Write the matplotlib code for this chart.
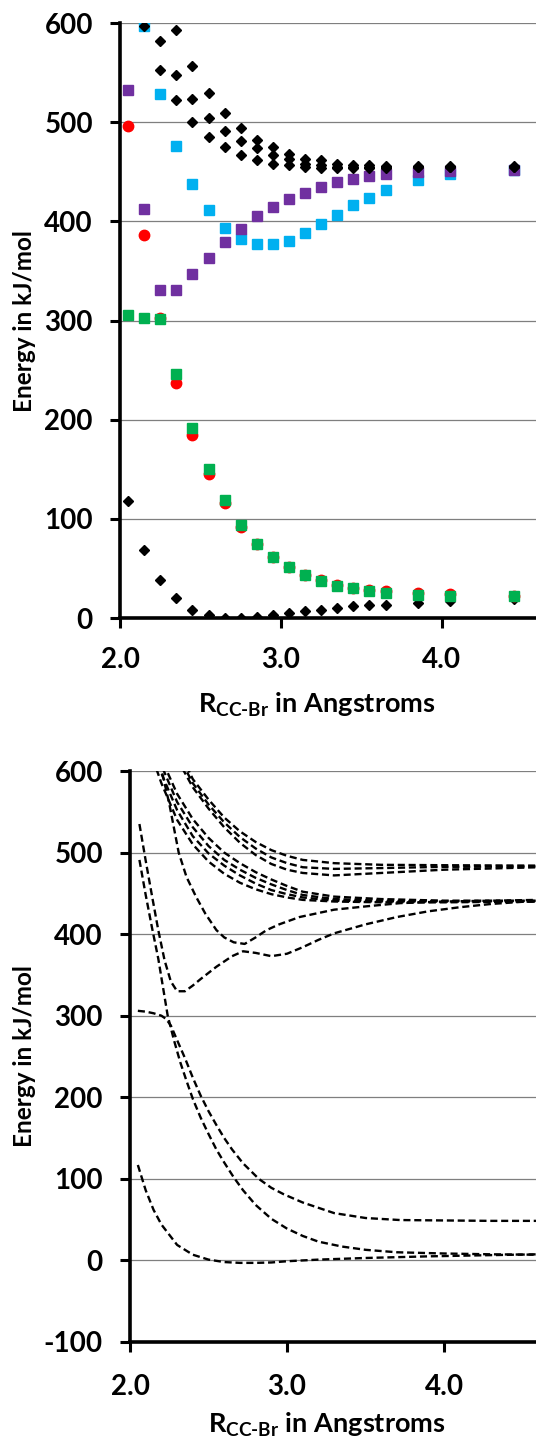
import numpy as np
import matplotlib.pyplot as plt

plt.rcParams['font.family'] = ['Lato', 'DejaVu Sans']
plt.rcParams['font.weight'] = 'bold'
plt.rcParams['axes.unicode_minus'] = False
plt.rcParams['mathtext.fontset'] = 'custom'
plt.rcParams['mathtext.rm'] = 'Lato:bold'
plt.rcParams['mathtext.bf'] = 'Lato:bold'

nan = np.nan

# ---- top panel: computed points ----
r_top = [2.05, 2.15, 2.25, 2.35, 2.45, 2.55, 2.65, 2.75, 2.85, 2.95,
         3.05, 3.15, 3.25, 3.35, 3.45, 3.55, 3.65, 3.85, 4.05, 4.45]
ground = [118, 69, 38, 20, 8, 3, 0.5, 0, 1, 2.6, 4.9, 6.6, 8.3, 10, 11.8, 12.8, 13.5, 15.5, 17, 19]
red = [496, 386, 303, 237, 185, 145, 116, 92, 75, 62, 51, 43, 38, 33, 30.5, 28.5, 27, 25, 24, 22.5]
green = [306, 303, 302, 246, 192, 150, 119, 94, 75, 62, 51, 43, 37, 32.5, 30, 27, 25, 23, 22.5, 22]
purple = [532, 412, 331, 331, 347, 363, 379, 392, 405, 414, 423, 429, 435, 440, 443, 446, 448, 450, 451, 452]
cyan = [nan, 597, 528, 476, 438, 411, 393, 382, 377, 377, 380, 388, 397, 406, 416, 424, 432, 441.5, 448, 452]
black_a = [nan, nan, nan, 593, 557, 529, 509, 494, 482, 475, 468, 463, 462, 458, 457, 456.5, 456, 456, 456, 456]
black_b = [nan, nan, 582, 548, 523, 504, 491, 481, 473.5, 467, 463, 458, 457, 455, 455, 455, 455, 455, 455, 455]
black_c = [nan, 597, 553, 522, 500, 485, 474.5, 467, 461.5, 458, 456.5, 455, 453.5, 453.3, 454, 454, 454, 454.5, 454.5, 455]

# ---- bottom panel: fitted curves ----
g0_r = [2.05, 2.10, 2.15, 2.20, 2.30, 2.40, 2.50, 2.60, 2.70, 2.80, 2.90, 3.00, 3.20, 3.50, 3.90, 4.30, 4.60]
g0_e = [117, 86, 62, 44, 19, 7, 1, -2, -3, -3, -2.5, -1, 1, 3, 5, 6.5, 7.5]

a_r = [2.06, 2.10, 2.14, 2.18, 2.21, 2.24, 2.28, 2.32, 2.36, 2.40, 2.45, 2.50, 2.55, 2.60, 2.66,
       2.72, 2.80, 2.90, 3.00, 3.10, 3.20, 3.35, 3.50, 3.70, 4.00, 4.30, 4.60]
a_e = [491, 448, 408, 370, 335, 300, 270, 243, 220, 198, 175, 155, 136, 120, 102,
       86, 68, 51, 39, 30, 23, 17, 13, 10, 8.5, 7.5, 7]

b_r = [2.05, 2.10, 2.15, 2.20, 2.23, 2.26, 2.30, 2.35, 2.40, 2.45, 2.50, 2.55, 2.60, 2.65,
       2.72, 2.82, 2.90, 2.98, 3.10, 3.30, 3.50, 3.72, 4.00, 4.30, 4.60]
b_e = [306, 305, 303, 300, 296, 288, 270, 248, 224, 202, 183, 166, 150, 136,
       119, 100, 89, 81, 71, 58, 52, 49.5, 49, 48.5, 48.5]

p_r = [2.06, 2.10, 2.14, 2.18, 2.22, 2.26, 2.30, 2.35, 2.40, 2.45, 2.55, 2.65, 2.72, 2.80,
       2.90, 3.00, 3.10, 3.20, 3.30, 3.50, 3.70, 3.90, 4.10, 4.30, 4.60]
p_e = [535, 490, 447, 405, 368, 342, 330, 330, 337, 345, 360, 373, 379, 377,
       373, 376, 384, 393, 401, 412, 421, 428, 433, 437, 441]

c_r = [2.19, 2.25, 2.31, 2.36, 2.42, 2.48, 2.55, 2.60, 2.66, 2.73, 2.80, 2.87, 2.95,
       3.08, 3.30, 3.50, 3.72, 4.00, 4.30, 4.60]
c_e = [610, 560, 500, 470, 446, 425, 405, 396, 390, 388, 396, 405, 412,
       421, 430, 434, 438, 440, 441, 442]

l_r = [2.10, 2.20, 2.30, 2.40, 2.50, 2.60, 2.70, 2.80, 2.90, 3.00, 3.10, 3.30, 3.60, 4.00, 4.60]
l1_e = [700, 615, 572, 541, 518, 500, 487, 476, 467, 459, 452, 446, 443, 441, 441]
l2_e = [680, 607, 562, 531, 508, 491, 479, 469, 461, 454, 448, 443, 441, 440.5, 440.5]
l3_e = [660, 597, 552, 520, 499, 484, 472, 462, 454, 449, 445, 441, 440, 440, 440]
l4_e = [640, 585, 540, 510, 489, 474, 463, 455, 449, 445, 442, 440, 439, 439, 440]

h_r = [2.30, 2.40, 2.50, 2.60, 2.70, 2.80, 2.90, 3.00, 3.10, 3.30, 3.60, 4.00, 4.60]
h1_e = [630, 590, 565, 543, 526, 513, 503, 496, 491, 487, 485, 484.5, 484]
h2_e = [622, 585, 559, 537, 519, 505, 494, 487, 482, 480, 481, 482.5, 483]
h3_e = [615, 580, 554, 531, 512, 497, 486, 479, 475, 472, 475, 479, 482]

W, H = 536, 1441
fig = plt.figure(figsize=(W / 100, H / 100), dpi=100)


def style_axes(ax, ymin, xpad):
    ax.set_xlim(2.0, 4.585)
    ax.set_ylim(ymin, 600)
    ax.set_yticks(np.arange(ymin, 601, 100))
    ax.set_xticks([2.0, 3.0, 4.0])
    ax.set_xticklabels(['2.0', '3.0', '4.0'])
    ax.grid(axis='y', color='#7f7f7f', linewidth=0.9)
    ax.set_axisbelow(True)
    for s in ['top', 'right']:
        ax.spines[s].set_visible(False)
    for s in ['left', 'bottom']:
        ax.spines[s].set_linewidth(2.6)
        ax.spines[s].set_color('black')
    ax.tick_params(axis='both', direction='out', length=7, width=2.2, labelsize=20)
    ax.tick_params(axis='y', pad=12.5)
    ax.tick_params(axis='x', pad=xpad)
    for lab in ax.get_xticklabels() + ax.get_yticklabels():
        lab.set_fontweight('bold')


xlab = r'R$_{\mathrm{CC‐Br}}$ in Angstroms'

# top panel
ax1 = fig.add_axes([120 / W, 1 - 618 / H, 416 / W, 595 / H])
style_axes(ax1, 0, 14)
ax1.plot(r_top, ground, 'D', color='black', ms=5.2, zorder=3)
ax1.plot(r_top, red, 'o', color='#ff0000', ms=7.5, zorder=3)
ax1.plot(r_top, green, 's', color='#00b050', ms=7.5, zorder=3)
ax1.plot(r_top, cyan, 's', color='#00b0f0', ms=7.5, zorder=3)
ax1.plot(r_top, purple, 's', color='#7030a0', ms=7.5, zorder=3)
for ys in (black_a, black_b, black_c):
    ax1.plot(r_top, ys, 'D', color='black', ms=5.2, zorder=4)
fig.text(25 / W, 1 - 321 / H, 'Energy in kJ/mol', rotation=90, ha='center', va='center',
         fontsize=17.5, fontweight='bold')
fig.text(317 / W, 1 - 705 / H, xlab, ha='center', va='center', fontsize=19.5, fontweight='bold')

# bottom panel
ax2 = fig.add_axes([130 / W, 1 - 1342 / H, 406 / W, 571 / H])
style_axes(ax2, -100, 16)
dash = dict(color='black', linestyle=(0, (3.0, 1.6)), linewidth=1.7)
ax2.plot(g0_r, g0_e, **dash)
ax2.plot(a_r, a_e, **dash)
ax2.plot(b_r, b_e, **dash)
ax2.plot(p_r, p_e, **dash)
ax2.plot(c_r, c_e, **dash)
for ys in (l1_e, l2_e, l3_e, l4_e):
    ax2.plot(l_r, ys, **dash)
for ys in (h1_e, h2_e, h3_e):
    ax2.plot(h_r, ys, **dash)
fig.text(25 / W, 1 - 1056 / H, 'Energy in kJ/mol', rotation=90, ha='center', va='center',
         fontsize=17.5, fontweight='bold')
fig.text(327 / W, 1 - 1425 / H, xlab, ha='center', va='center', fontsize=19.5, fontweight='bold')

fig.savefig('out.png', dpi=100)
